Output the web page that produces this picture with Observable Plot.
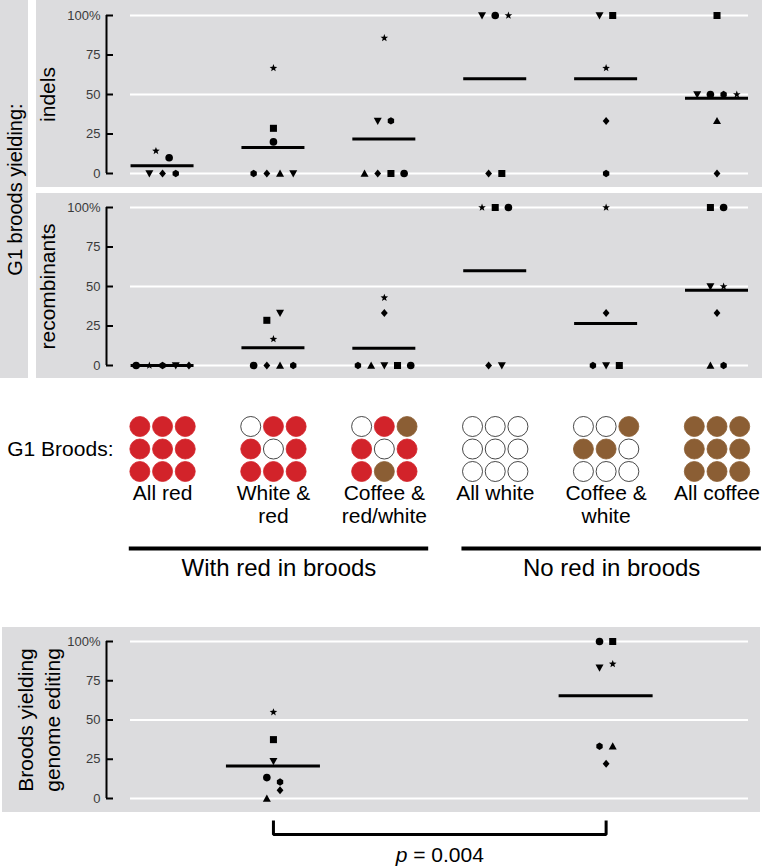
<!DOCTYPE html>
<html><head><meta charset="utf-8">
<script src="https://cdn.jsdelivr.net/npm/d3@7"></script>
<script src="https://cdn.jsdelivr.net/npm/@observablehq/plot@0.6"></script>
<style>
body{margin:0;background:#fff;}
#root{position:relative;width:762px;height:867px;overflow:hidden;}
#root > div{position:absolute;}
#root svg{display:block;}
</style></head><body><div id="root"></div>
<script>
// ---------------- data ----------------
const categories = ["All red", "White & red", "Coffee & red/white", "All white", "Coffee & white", "All coffee"];
const categoryLabels = ["All red", "White &\nred", "Coffee &\nred/white", "All white", "Coffee &\nwhite", "All coffee"];
// brood composition, 3x3 grid read row by row: R = red, W = white, C = coffee
const broodGrids = ["RRRRRRRRR", "WRRRWRRRR", "WRCRWRRCR", "WWWWWWWWW", "WWCCCWWWW", "CCCCCCCCC"];
const groups = ["With red in broods", "No red in broods"];
const groupMembers = [[0, 1, 2], [3, 4, 5]];
const yTicks = [0, 25, 50, 75, 100];
const gridValues = [0, 50, 100];
// [category index, experiment symbol, % of broods]
const indels = [
  [0, "star", 14.3], [0, "circle", 10], [0, "down", 0], [0, "diamond", 0], [0, "hexagon", 0],
  [1, "star", 66.7], [1, "square", 28.6], [1, "circle", 20], [1, "hexagon", 0], [1, "diamond", 0], [1, "up", 0], [1, "down", 0],
  [2, "star", 85.7], [2, "down", 33.3], [2, "hexagon", 33.3], [2, "up", 0], [2, "diamond", 0], [2, "square", 0], [2, "circle", 0],
  [3, "down", 100], [3, "circle", 100], [3, "star", 100], [3, "diamond", 0], [3, "square", 0],
  [4, "down", 100], [4, "square", 100], [4, "star", 66.7], [4, "diamond", 33.3], [4, "hexagon", 0],
  [5, "square", 100], [5, "down", 50], [5, "circle", 50], [5, "hexagon", 50], [5, "star", 50], [5, "up", 33.3], [5, "diamond", 0]
];
const recombinants = [
  [0, "circle", 0], [0, "star", 0], [0, "hexagon", 0], [0, "down", 0], [0, "diamond", 0],
  [1, "square", 28.6], [1, "down", 33.3], [1, "star", 16.7], [1, "circle", 0], [1, "diamond", 0], [1, "up", 0], [1, "hexagon", 0],
  [2, "star", 42.9], [2, "diamond", 33.3], [2, "hexagon", 0], [2, "up", 0], [2, "down", 0], [2, "square", 0], [2, "circle", 0],
  [3, "star", 100], [3, "square", 100], [3, "circle", 100], [3, "diamond", 0], [3, "down", 0],
  [4, "star", 100], [4, "diamond", 33.3], [4, "hexagon", 0], [4, "down", 0], [4, "square", 0],
  [5, "square", 100], [5, "circle", 100], [5, "down", 50], [5, "star", 50], [5, "diamond", 33.3], [5, "up", 0], [5, "hexagon", 0]
];
// [group index, experiment symbol, % of broods]
const editing = [
  [0, "star", 55], [0, "square", 37.5], [0, "down", 23.8], [0, "circle", 13.3], [0, "hexagon", 10.5], [0, "up", 0], [0, "diamond", 5.3],
  [1, "circle", 100], [1, "square", 100], [1, "down", 83.3], [1, "star", 85.7], [1, "hexagon", 33.3], [1, "up", 33.3], [1, "diamond", 22.2]
];
const pValue = "0.004";

// ---------------- styles ----------------
const FONT = '"Liberation Sans", Arial, Helvetica, sans-serif';
const GRAY = "#dcdcde";
const BROOD_COLORS = {R: "#d2232a", W: "#ffffff", C: "#8b5e34"};
const X_DOMAIN = [-0.289, 5.284];
const PX0 = 130, PX1 = 748;
const UNIT = (PX1 - PX0) / (X_DOMAIN[1] - X_DOMAIN[0]);
const xAt = px => X_DOMAIN[0] + (px - PX0) / UNIT;
const SLOT = 13.2 / UNIT;
const CELL = 22.7 / UNIT;

function mk(fn) { return {draw(c, size) { fn(c, Math.sqrt(size / Math.PI)); }}; }
function poly(c, pts) { pts.forEach(([x, y], k) => k ? c.lineTo(x, y) : c.moveTo(x, y)); c.closePath(); }
const SYM = {
  circle: mk((c, R) => { c.moveTo(0.95 * R, 0); c.arc(0, 0, 0.95 * R, 0, 2 * Math.PI); }),
  hexagon: mk((c, R) => poly(c, d3.range(6).map(k => { const a = Math.PI / 3 * k - Math.PI / 2; return [0.92 * R * Math.cos(a), 0.92 * R * Math.sin(a)]; }))),
  square: mk((c, R) => { const h = 0.88 * R; c.rect(-h, -h, 2 * h, 2 * h); }),
  up: mk((c, R) => poly(c, [[0, -1.0 * R], [R, 0.8 * R], [-R, 0.8 * R]])),
  down: mk((c, R) => poly(c, [[0, 1.0 * R], [R, -0.8 * R], [-R, -0.8 * R]])),
  diamond: mk((c, R) => poly(c, [[0, -R], [0.85 * R, 0], [0, R], [-0.85 * R, 0]])),
  star: mk((c, R) => poly(c, d3.range(10).map(k => { const a = -Math.PI / 2 + k * Math.PI / 5; const r = k % 2 ? 0.42 * R : 1.0 * R; return [r * Math.cos(a), r * Math.sin(a)]; })))
};

// spread points with (nearly) equal values side by side
function dodge(data, centers, thresh) {
  const out = [];
  for (const [c, pts] of d3.group(data.map(([c, sym, v]) => ({c, sym, v})), d => d.c)) {
    const clusters = [];
    for (const p of pts) {
      let cl = clusters.find(k => Math.abs(k.v - p.v) < thresh);
      if (!cl) { cl = {v: p.v, items: []}; clusters.push(cl); }
      cl.items.push(p);
    }
    for (const cl of clusters) cl.items.forEach((p, k) => out.push({...p, x: centers[c] + (k - (cl.items.length - 1) / 2) * SLOT}));
  }
  return out;
}

function valuePanel({data, centers, halfPx, width, height, mL, mR, mT, mB, label, labelPx, lineHeight}) {
  const pts = dodge(data, centers, 6);
  const means = d3.rollups(pts, g => d3.mean(g, d => d.v), d => d.c).map(([c, m]) => ({x: centers[c], m}));
  const half = halfPx / UNIT;
  return Plot.plot({
    width, height, marginLeft: mL, marginRight: mR, marginTop: mT, marginBottom: mB,
    style: {background: GRAY, fontFamily: FONT, color: "#000"},
    x: {domain: X_DOMAIN, axis: null},
    y: {domain: [0, 100], axis: null},
    marks: [
      Plot.ruleY(gridValues, {stroke: "#fff", strokeWidth: 2}),
      Plot.ruleX([xAt(106)], {y1: 0, y2: 100, strokeWidth: 2}),
      Plot.ruleY(yTicks, {x1: xAt(106), x2: xAt(113), strokeWidth: 2}),
      Plot.text(yTicks, {x: xAt(100), y: d => d, text: d => d === 100 ? "100%" : String(d), textAnchor: "end", fontSize: 13, fill: "#3a3a3a"}),
      Plot.ruleY(means, {y: "m", x1: d => d.x - half, x2: d => d.x + half, strokeWidth: 3}),
      Plot.dot(pts, {x: "x", y: "v", symbol: d => SYM[d.sym], r: 4, fill: "#000", stroke: null}),
      Plot.text([label], {frameAnchor: "left", textAnchor: "middle", dx: labelPx - PX0, rotate: -90, fontSize: 21, lineHeight: lineHeight || 1})
    ]
  });
}

function place(node, left, top) {
  const div = document.createElement("div");
  div.style.left = left + "px"; div.style.top = top + "px";
  div.appendChild(node);
  document.getElementById("root").appendChild(div);
}

const catCenters = categories.map((d, i) => i);
const groupCenters = groupMembers.map(m => d3.mean(m));

// left strip
place(Plot.plot({
  width: 28, height: 378, margin: 0,
  style: {background: GRAY, fontFamily: FONT, color: "#000"},
  marks: [Plot.text(["G1 broods yielding:"], {frameAnchor: "middle", textAnchor: "middle", rotate: -90, fontSize: 20, dx: 1})]
}), 0, 0);

place(valuePanel({data: indels, centers: catCenters, halfPx: 31.5, width: 726, height: 187, mL: 94, mR: 14, mT: 15, mB: 14, label: "indels", labelPx: 48}), 36, 0);
place(valuePanel({data: recombinants, centers: catCenters, halfPx: 31.5, width: 726, height: 185, mL: 94, mR: 14, mT: 14, mB: 13, label: "recombinants", labelPx: 48}), 36, 193);

// brood composition section
const cells = broodGrids.flatMap((g, i) => [...g].map((code, k) => ({i, code, row: Math.floor(k / 3), col: k % 3})));
const spans = groupMembers.map(m => ({x1: d3.min(m) - 0.3, x2: d3.max(m) + 0.4}));
place(Plot.plot({
  width: 762, height: 249, marginLeft: 130, marginRight: 14, marginTop: 0, marginBottom: 0,
  style: {background: "#fff", fontFamily: FONT, color: "#000"},
  x: {domain: X_DOMAIN, axis: null},
  y: {domain: [0, 2], range: [48, 93], axis: null},
  marks: [
    Plot.text(["G1 Broods:"], {x: xAt(113), y: 1, textAnchor: "end", fontSize: 21}),
    Plot.dot(cells, {x: d => d.i + (d.col - 1) * CELL, y: "row", r: 10, fill: d => BROOD_COLORS[d.code],
      stroke: d => d.code === "W" ? "#1a1a1a" : BROOD_COLORS[d.code], strokeWidth: 0.8}),
    Plot.text(categoryLabels, {x: (d, i) => i, y: 2, dy: 13, lineAnchor: "top", fontSize: 21, lineHeight: 1.07}),
    Plot.ruleY(spans, {x1: "x1", x2: "x2", y: 2, dy: 77, strokeWidth: 4}),
    Plot.text(groups, {x: (d, i) => (spans[i].x1 + spans[i].x2) / 2, y: 2, dy: 97, fontSize: 24})
  ]
}), 0, 378);

// pooled panel
place(valuePanel({data: editing, centers: groupCenters, halfPx: 47, width: 758, height: 185, mL: 128, mR: 12, mT: 14, mB: 14,
  label: "Broods yielding\ngenome editing", labelPx: 37, lineHeight: 1.3}), 2, 627);

// significance bracket
const bracket = Plot.plot({
  width: 758, height: 55, marginLeft: 128, marginRight: 12, marginTop: 0, marginBottom: 0,
  style: {background: "#fff", fontFamily: FONT, color: "#000"},
  x: {domain: X_DOMAIN, axis: null},
  y: {domain: [0, 1], range: [22, 8], axis: null},
  marks: [
    Plot.line([[groupCenters[0], 1], [groupCenters[0], 0], [groupCenters[1], 0], [groupCenters[1], 1]], {strokeWidth: 3, strokeLinejoin: "miter", strokeLinecap: "butt"}),
    Plot.text([`p = ${pValue}`], {x: d3.mean(groupCenters), y: 0, dy: 21, fontSize: 21})
  ]
});
d3.select(bracket).selectAll("text").filter(function() { return this.textContent.startsWith("p ="); }).each(function() {
  const t = d3.select(this);
  const rest = this.textContent.slice(1);
  t.text("");
  t.append("tspan").attr("font-style", "italic").text("p");
  t.append("tspan").text(rest);
});
place(bracket, 2, 812);
</script></body></html>
